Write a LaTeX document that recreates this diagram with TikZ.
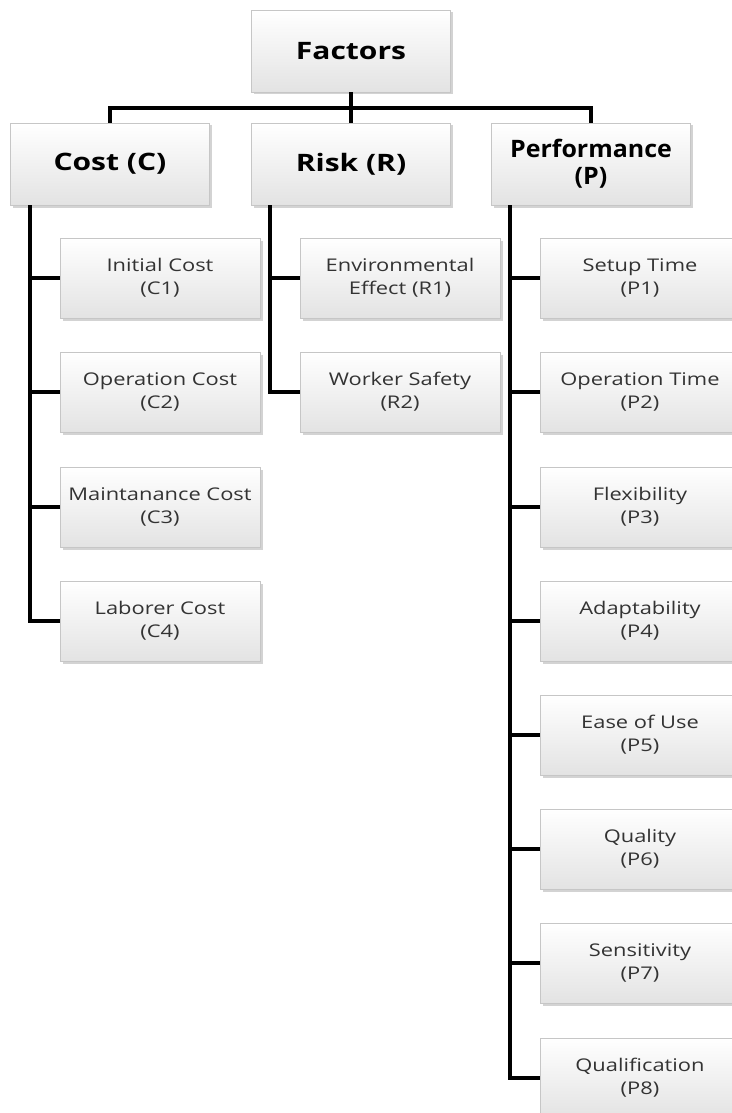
\documentclass[tikz,border=0pt]{standalone}
\usepackage{fontspec}
\setmainfont{Open Sans}
\newfontfamily\wideos[FakeStretch=1.25]{Open Sans}
\newfontfamily\perfos[FakeStretch=1.04]{Open Sans}
\usetikzlibrary{shadows}
\begin{document}
\begin{tikzpicture}[x=1pt,y=-1pt,
  box/.style={rectangle, draw=gray!45, line width=0.6pt, top color=white, bottom color=gray!22,
    drop shadow={shadow xshift=2.5pt, shadow yshift=-2.5pt, opacity=0.35, fill=gray},
    align=center, inner sep=2pt},
  head/.style={box, minimum width=199pt, minimum height=82pt, font=\wideos\fontsize{24}{27}\selectfont\bfseries},
  leaf/.style={box, minimum width=200pt, minimum height=80pt, font=\wideos\fontsize{17.5}{23}\selectfont, text=black!80},
  link/.style={line width=4pt, black}]
\useasboundingbox (0,0) rectangle (731,1113);
\node[head] (F) at (351,51) {Factors};
\node[head] (C) at (110,164) {Cost (C)};
\node[head] (R) at (351,164) {Risk (R)};
\node[head, font=\perfos\fontsize{24}{27}\selectfont\bfseries] (P) at (591,164) {Performance\\(P)};
\coordinate (bar) at (351,108);
\draw[link] (F.south) -- (bar);
\draw[link] (C.north) |- (bar) -| (P.north);
\draw[link] (bar) -- (R.north);

\node[leaf] (C1) at (160,278) {Initial Cost\\(C1)};
\node[leaf] (C2) at (160,392) {Operation Cost\\(C2)};
\node[leaf] (C3) at (160,507) {Maintanance Cost\\(C3)};
\node[leaf] (C4) at (160,621) {Laborer Cost\\(C4)};

\node[leaf] (R1) at (400,278) {Environmental\\Effect (R1)};
\node[leaf] (R2) at (400,392) {Worker Safety\\(R2)};

\node[leaf] (P1) at (640,278) {Setup Time\\(P1)};
\node[leaf] (P2) at (640,392) {Operation Time\\(P2)};
\node[leaf] (P3) at (640,507) {Flexibility\\(P3)};
\node[leaf] (P4) at (640,621) {Adaptability\\(P4)};
\node[leaf] (P5) at (640,735) {Ease of Use\\(P5)};
\node[leaf] (P6) at (640,849) {Quality\\(P6)};
\node[leaf] (P7) at (640,963) {Sensitivity\\(P7)};
\node[leaf] (P8) at (640,1078) {Qualification\\(P8)};

\coordinate (ct) at (30,205);
\coordinate (rt) at (270,205);
\coordinate (pt) at (510,205);
\draw[link] (ct) |- (C4.west);
\foreach \n in {C1,C2,C3} \draw[link] (ct |- \n.west) -- (\n.west);
\draw[link] (rt) |- (R2.west);
\draw[link] (rt |- R1.west) -- (R1.west);
\draw[link] (pt) |- (P8.west);
\foreach \n in {P1,P2,P3,P4,P5,P6,P7} \draw[link] (pt |- \n.west) -- (\n.west);
\end{tikzpicture}
\end{document}
